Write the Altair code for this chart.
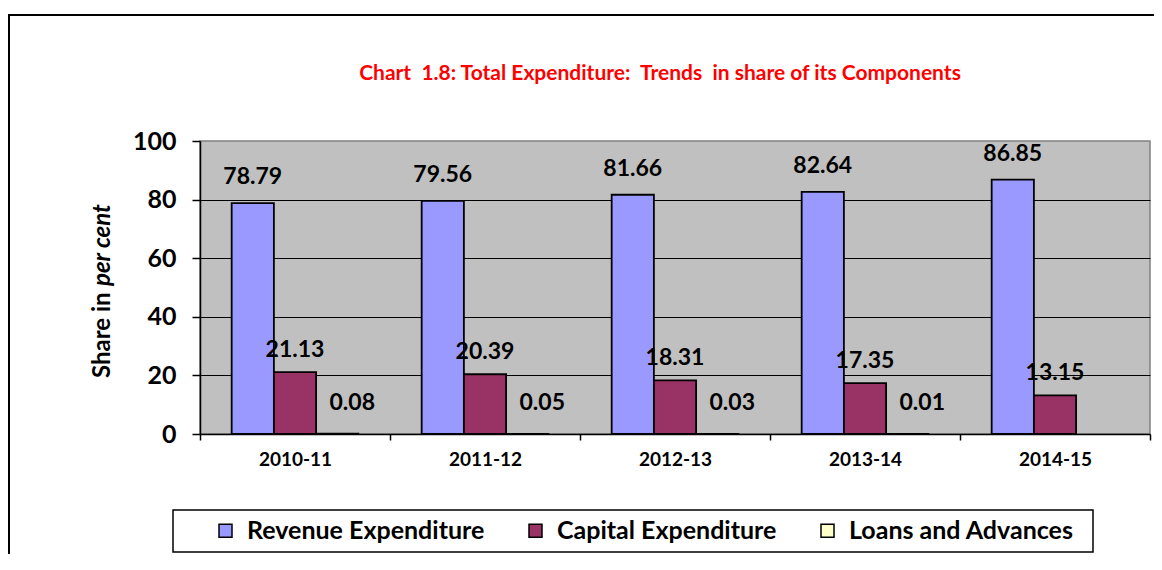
import altair as alt
import pandas as pd

years = ["2010-11", "2011-12", "2012-13", "2013-14", "2014-15"]
series = ["Revenue Expenditure", "Capital Expenditure", "Loans and Advances"]
revenue = [78.79, 79.56, 81.66, 82.64, 86.85]
capital = [21.13, 20.39, 18.31, 17.35, 13.15]
loans = [0.08, 0.05, 0.03, 0.01, None]
colors = ["#9999FF", "#993366", "#FFFFCC"]
y_ticks = [0, 20, 40, 60, 80, 100]
title_text = "Chart\u00a0 1.8: Total Expenditure:\u00a0 Trends\u00a0 in share of its Components"

rows = []
for i, yr in enumerate(years):
    for s, vals in zip(series, [revenue, capital, loans]):
        if vals[i] is not None:
            rows.append({"year": yr, "series": s, "value": vals[i], "label": f"{vals[i]:.2f}"})
df = pd.DataFrame(rows)

FONT = "Lato"

x_enc = alt.X("year:N", sort=years, title=None,
              scale=alt.Scale(paddingInner=0, paddingOuter=0),
              axis=alt.Axis(labelFont=FONT, labelFontSize=19, labelFontWeight="bold",
                            labelColor="black", labelAngle=0, labelPadding=10,
                            tickBand="extent", tickSize=6, tickColor="black",
                            domainColor="black", domainWidth=1.5, tickWidth=1.5))
xo_enc = alt.XOffset("series:N", sort=series,
                     scale=alt.Scale(domain=series, paddingInner=0, paddingOuter=0.75))
y_enc = alt.Y("value:Q", title=None,
              scale=alt.Scale(domain=[0, 100], nice=False),
              axis=alt.Axis(values=y_ticks, labelFont=FONT, labelFontSize=25,
                            labelFontWeight="bold", labelColor="black", labelPadding=16,
                            tickSize=8, tickColor="black", tickWidth=1.5,
                            domainColor="black", domainWidth=1.5,
                            grid=True, gridColor="black", gridWidth=1,
                            gridOpacity=alt.condition("datum.value == 0 || datum.value == 100",
                                                      alt.value(0), alt.value(1))))

base = alt.Chart(df)

legend_box = alt.Chart(pd.DataFrame({"a": [0]})).mark_rect(
    fill="white", stroke="black", strokeWidth=1.5
).encode(x=alt.value(-27), x2=alt.value(893), y=alt.value(369), y2=alt.value(411))

bars = base.mark_bar(stroke="black", strokeWidth=1.8).encode(
    x=x_enc,
    xOffset=xo_enc,
    y=y_enc,
    color=alt.Color("series:N", sort=series,
                    scale=alt.Scale(domain=series, range=colors),
                    legend=alt.Legend(title=None, orient="none", direction="horizontal",
                                      legendX=13, legendY=377,
                                      symbolType="square", symbolSize=169,
                                      symbolStrokeColor="black", symbolStrokeWidth=1.5,
                                      labelFont=FONT, labelFontSize=25, labelFontWeight="bold",
                                      labelColor="black", labelLimit=400, labelOffset=9,
                                      columnPadding=38, padding=0)),
)

def labels(series_name, dy, dx=0):
    return base.transform_filter(alt.datum.series == series_name).mark_text(
        font=FONT, fontSize=23, fontWeight="bold", color="black",
        baseline="middle", dy=dy, dx=dx
    ).encode(x=x_enc, xOffset=xo_enc, y=y_enc, text="label:N")

lab_rev = labels(series[0], -26)
lab_cap = labels(series[1], -22)
lab_loan = labels(series[2], -31, 15)

t1 = alt.Chart(pd.DataFrame({"t": ["Share in"]})).mark_text(
    font=FONT, fontSize=24, fontWeight="bold", color="black", angle=270,
    align="left", baseline="middle"
).encode(x=alt.value(-97), y=alt.value(237), text="t:N")
t2 = alt.Chart(pd.DataFrame({"t": ["per cent"]})).mark_text(
    font=FONT, fontSize=24, fontWeight="bold", fontStyle="italic", color="black", angle=270,
    align="left", baseline="middle"
).encode(x=alt.value(-97), y=alt.value(145), text="t:N")

title = alt.Chart(pd.DataFrame({"t": [title_text]})).mark_text(
    font=FONT, fontSize=21, fontWeight="bold", color="#FF0000",
    align="center", baseline="middle"
).encode(x=alt.value(460), y=alt.value(-67), text="t:N")

frame_top = alt.Chart(pd.DataFrame({"a": [0]})).mark_rule(color="black", strokeWidth=2).encode(
    x=alt.value(-192), x2=alt.value(970), y=alt.value(-126))
frame_left = alt.Chart(pd.DataFrame({"a": [0]})).mark_rule(color="black", strokeWidth=2).encode(
    x=alt.value(-191), y=alt.value(-126), y2=alt.value(440))

chart = alt.layer(legend_box, bars, lab_rev, lab_cap, lab_loan, t1, t2, title,
                  frame_top, frame_left).properties(
    width=950, height=293,
    autosize=alt.AutoSizeParams(type="none"),
    padding={"left": 192, "top": 133, "right": 4, "bottom": 120},
).configure_view(
    fill="#C0C0C0", stroke="#808080", strokeWidth=1.5
)

chart.save("out.html", embed_options={"renderer": "svg", "actions": False})
